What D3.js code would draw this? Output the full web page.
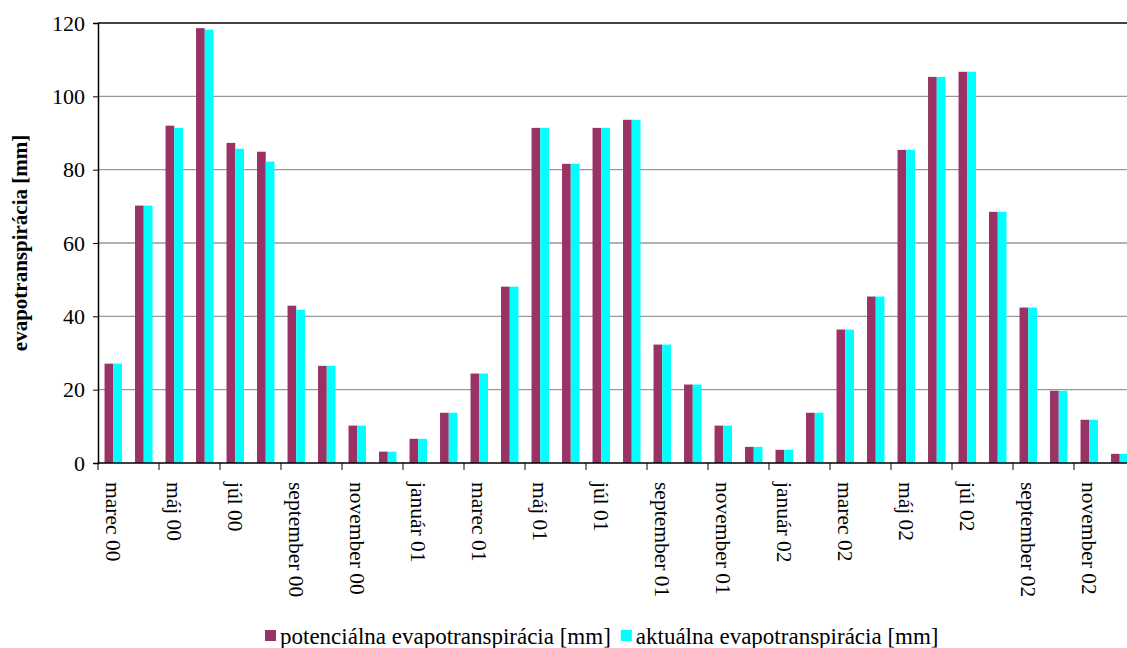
<!DOCTYPE html>
<html>
<head>
<meta charset="utf-8">
<script src="https://cdn.jsdelivr.net/npm/d3@7"></script>
<style>
  body { margin: 0; background: #fff; }
  text { font-family: "Liberation Serif", "Times New Roman", serif; }
</style>
</head>
<body>
<svg id="chart" width="1127" height="648"></svg>
<script>
// months march 2000 - december 2002
let months = ["marec 00", "apríl 00", "máj 00", "jún 00", "júl 00", "august 00", "september 00", "október 00", "november 00", "december 00",
    "január 01", "február 01", "marec 01", "apríl 01", "máj 01", "jún 01", "júl 01", "august 01", "september 01", "október 01", "november 01", "december 01",
    "január 02", "február 02", "marec 02", "apríl 02", "máj 02", "jún 02", "júl 02", "august 02", "september 02", "október 02", "november 02", "december 02"];
let potencialna = [27.1, 70.2, 92.0, 118.6, 87.3, 84.9, 42.9, 26.5, 10.2, 3.1,
    6.6, 13.7, 24.4, 48.1, 91.4, 81.6, 91.4, 93.6, 32.3, 21.4, 10.2, 4.4,
    3.6, 13.7, 36.4, 45.4, 85.4, 105.3, 106.7, 68.5, 42.4, 19.7, 11.8, 2.5];
let aktualna = [27.1, 70.2, 91.4, 118.2, 85.7, 82.2, 41.8, 26.5, 10.2, 3.1,
    6.6, 13.7, 24.4, 48.1, 91.4, 81.6, 91.4, 93.6, 32.3, 21.4, 10.2, 4.4,
    3.6, 13.7, 36.4, 45.4, 85.4, 105.3, 106.7, 68.5, 42.4, 19.7, 11.8, 2.5];
let seriesNames = ["potenciálna evapotranspirácia [mm]", "aktuálna evapotranspirácia [mm]"];
let colors = ["#993366", "#00ffff"];
let yTicks = [0, 20, 40, 60, 80, 100, 120];

window.onload = function() {
    var svg = d3.select("#chart");
    let font = "'Liberation Serif', 'Times New Roman', serif";

    let left = 98, top = 23, bottom = 463;
    let step = 30.5;
    let right = left + months.length * step;

    var x = d3.scaleBand()
        .domain(months)
        .range([left, right])
        .padding(0);

    var x1 = d3.scaleBand()
        .domain([0, 1])
        .range([0, x.bandwidth()])
        .paddingInner(0)
        .paddingOuter(0.75);

    var y = d3.scaleLinear()
        .domain([0, 120])
        .range([bottom, top]);

    // gridlines
    svg.append("g")
        .selectAll("line")
        .data(yTicks.filter(d => d > 0))
        .enter().append("line")
        .attr("x1", left)
        .attr("x2", right)
        .attr("y1", d => y(d))
        .attr("y2", d => y(d))
        .style("stroke", d => d == 120 ? "#444" : "#999")
        .style("stroke-width", d => d == 120 ? 2 : 1.3);

    // bars
    let series = [potencialna, aktualna];
    series.forEach(function(vals, s) {
        svg.append("g")
            .selectAll("rect")
            .data(vals)
            .enter().append("rect")
            .attr("x", (d, i) => x(months[i]) + x1(s))
            .attr("width", x1.bandwidth())
            .attr("y", d => y(d))
            .attr("height", d => y(0) - y(d))
            .style("fill", colors[s]);
    });

    // y axis
    var yAxis = svg.append("g")
        .attr("transform", "translate(" + left + ",0)")
        .call(d3.axisLeft(y).tickValues(yTicks).tickSize(5).tickPadding(8));
    yAxis.attr("font-family", null).attr("font-size", null);
    yAxis.select(".domain").style("stroke", "#000").style("stroke-width", 1.5);
    yAxis.selectAll(".tick line").style("stroke", "#000");
    yAxis.selectAll("text")
        .style("font-family", font)
        .style("font-size", "22px")
        .style("fill", "#000");

    // x axis
    svg.append("line")
        .attr("x1", left).attr("x2", right)
        .attr("y1", bottom).attr("y2", bottom)
        .style("stroke", "#000").style("stroke-width", 1.5);

    let boundaries = d3.range(0, months.length + 1, 2);
    svg.append("g")
        .selectAll("line")
        .data(boundaries)
        .enter().append("line")
        .attr("x1", d => left + d * x.step())
        .attr("x2", d => left + d * x.step())
        .attr("y1", bottom)
        .attr("y2", bottom + 7)
        .style("stroke", "#000")
        .style("stroke-width", 1);

    svg.append("g")
        .selectAll("text")
        .data(months.filter((m, i) => i % 2 == 0))
        .enter().append("text")
        .attr("transform", d => "translate(" + (x(d) + x.bandwidth() / 2) + "," + (bottom + 19) + ") rotate(90)")
        .attr("dy", "0.33em")
        .style("font-family", font)
        .style("font-size", "21.5px")
        .style("fill", "#000")
        .text(d => d);

    // y title
    svg.append("text")
        .attr("transform", "translate(27," + ((top + bottom) / 2) + ") rotate(-90)")
        .attr("text-anchor", "middle")
        .style("font-family", font)
        .style("font-size", "21px")
        .style("font-weight", "bold")
        .text("evapotranspirácia [mm]");

    // legend
    var legend = svg.append("g");
    let lx = 265;
    seriesNames.forEach(function(name, i) {
        legend.append("rect")
            .attr("x", lx)
            .attr("y", 630)
            .attr("width", 11)
            .attr("height", 11)
            .style("fill", colors[i]);
        var t = legend.append("text")
            .attr("x", lx + 15)
            .attr("y", 644)
            .style("font-family", font)
            .style("font-size", "23px")
            .text(name);
        lx += 15 + t.node().getComputedTextLength() + 10;
    });
};
</script>
</body>
</html>
